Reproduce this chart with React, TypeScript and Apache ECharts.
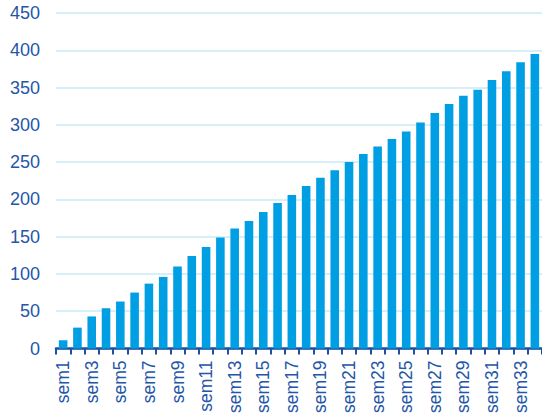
import React, { useEffect, useRef } from "react";
import * as echarts from "echarts";

const categories: string[] = Array.from({ length: 34 }, (_, i) => `sem${i + 1}`);
const values: number[] = [
  11, 28, 43, 54, 63, 75, 87, 96, 110, 124,
  136, 149, 161, 171, 183, 195, 206, 218, 229, 239,
  250, 261, 271, 281, 291, 303, 316, 328, 339, 347,
  360, 372, 384, 395,
];
const yMin = 0;
const yMax = 450;
const yInterval = 50;

export default function App() {
  const ref = useRef<HTMLDivElement>(null);
  useEffect(() => {
    if (!ref.current) return;
    const chart = echarts.init(ref.current, null, { renderer: "svg" });
    chart.setOption({
      animation: false,
      grid: { left: 56, right: 0, top: 13, bottom: 68.5, containLabel: false },
      xAxis: {
        type: "category",
        data: categories,
        axisLine: { show: true, lineStyle: { color: "#1f4f9f", width: 2.5 } },
        axisTick: { show: true, alignWithLabel: false, interval: 0, length: 6, lineStyle: { color: "#1f4f9f", width: 2 } },
        axisLabel: {
          interval: 1,
          rotate: 90,
          color: "#2456a8",
          fontFamily: "Liberation Sans, Arial, sans-serif",
          fontSize: 17.5,
          margin: 12,
        },
      },
      yAxis: {
        type: "value",
        min: yMin,
        max: yMax,
        interval: yInterval,
        axisLine: { show: false },
        axisTick: { show: false },
        splitLine: { lineStyle: { color: "#c9ebf8", width: 1.5 } },
        axisLabel: {
          color: "#2456a8",
          fontFamily: "Liberation Sans, Arial, sans-serif",
          fontSize: 18,
          margin: 16,
        },
      },
      series: [
        {
          type: "bar",
          data: values,
          barWidth: "60%",
          itemStyle: { color: "#009fe3" },
        },
      ],
    });
    return () => chart.dispose();
  }, []);
  return <div ref={ref} style={{ width: 542, height: 417, position: "absolute", left: 0, top: 0 }} />;
}
